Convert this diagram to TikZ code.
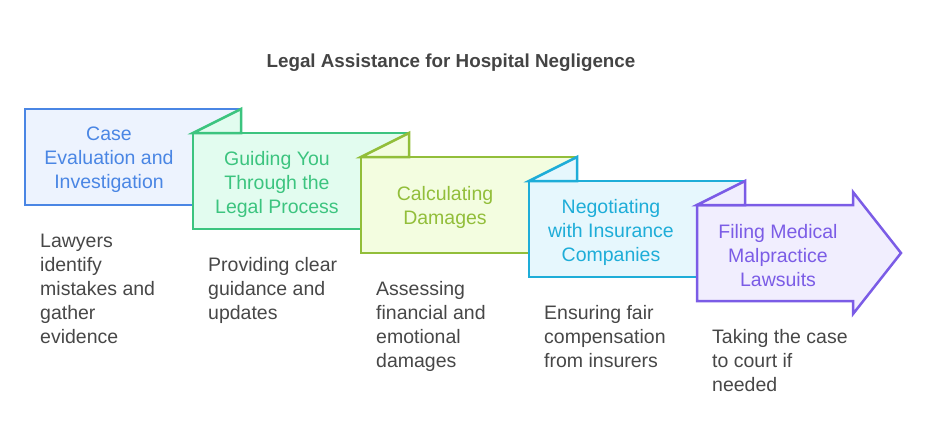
\documentclass[tikz,border=0pt]{standalone}
\usepackage{fontspec}
\setmainfont{Liberation Sans}
\usetikzlibrary{positioning}
\definecolor{titlecol}{HTML}{444444}
\definecolor{desccol}{HTML}{474747}
\definecolor{caseline}{HTML}{4A86E4}
\definecolor{casefill}{HTML}{EDF3FE}
\definecolor{guideline}{HTML}{3CC47F}
\definecolor{guidefill}{HTML}{E2FCEF}
\definecolor{calcline}{HTML}{92BE3A}
\definecolor{calcfill}{HTML}{F3FDE0}
\definecolor{negoline}{HTML}{1EADD8}
\definecolor{negofill}{HTML}{E6F7FD}
\definecolor{fileline}{HTML}{7B5CE6}
\definecolor{filefill}{HTML}{F1EEFE}
\tikzset{
  every node/.style={inner sep=0pt},
  stepbox/.style={line width=2.5pt, line join=miter},
  steptext/.style={align=center, font=\fontsize{19.5}{24}\selectfont},
  desctext/.style={align=left, anchor=base west, text=desccol, font=\fontsize{19.5}{24}\selectfont}
}
\begin{document}
\begin{tikzpicture}[x=1pt,y=-1pt]
    \useasboundingbox (0,0) rectangle (927,447);
    \node at (451, 63) [font=\fontsize{18.8}{22}\selectfont\bfseries, text=titlecol] (title) {Legal Assistance for Hospital Negligence};

    \draw[stepbox, draw=caseline, fill=casefill] (25,109) rectangle (241,205);
    \node at (109, 160) [steptext, text=caseline] (case) {Case\\Evaluation and\\Investigation};
    \node at (40, 343) [desctext] (caseDesc) {Lawyers\\identify\\mistakes and\\gather\\evidence};

    \draw[stepbox, draw=guideline, fill=guidefill] (193,133) rectangle (409,229);
    \draw[stepbox, draw=guideline, fill=guidefill] (193,133) -- (241,109) -- (241,133) -- cycle;
    \node at (277, 184) [steptext, text=guideline] (guide) {Guiding You\\Through the\\Legal Process};
    \node at (208, 319) [desctext] (guideDesc) {Providing clear\\guidance and\\updates};

    \draw[stepbox, draw=calcline, fill=calcfill] (361,157) rectangle (577,253);
    \draw[stepbox, draw=calcline, fill=calcfill] (361,157) -- (409,133) -- (409,157) -- cycle;
    \node at (445, 207) [steptext, text=calcline] (calc) {Calculating\\Damages};
    \node at (376, 367) [desctext] (calcDesc) {Assessing\\financial and\\emotional\\damages};

    \draw[stepbox, draw=negoline, fill=negofill] (529,181) rectangle (745,277);
    \draw[stepbox, draw=negoline, fill=negofill] (529,181) -- (577,157) -- (577,181) -- cycle;
    \node at (611, 232) [steptext, text=negoline] (nego) {Negotiating\\with Insurance\\Companies};
    \node at (544, 367) [desctext] (negoDesc) {Ensuring fair\\compensation\\from insurers};

    \draw[stepbox, draw=fileline, fill=filefill] (697,205) -- (853,205) -- (853,192) -- (901,253) -- (853,314) -- (853,301) -- (697,301) -- cycle;
    \draw[stepbox, draw=fileline, fill=filefill] (697,205) -- (745,181) -- (745,205) -- cycle;
    \node at (778, 256) [steptext, text=fileline] (file) {Filing Medical\\Malpractice\\Lawsuits};
    \node at (712, 391) [desctext] (fileDesc) {Taking the case\\to court if\\needed};
\end{tikzpicture}
\end{document}
